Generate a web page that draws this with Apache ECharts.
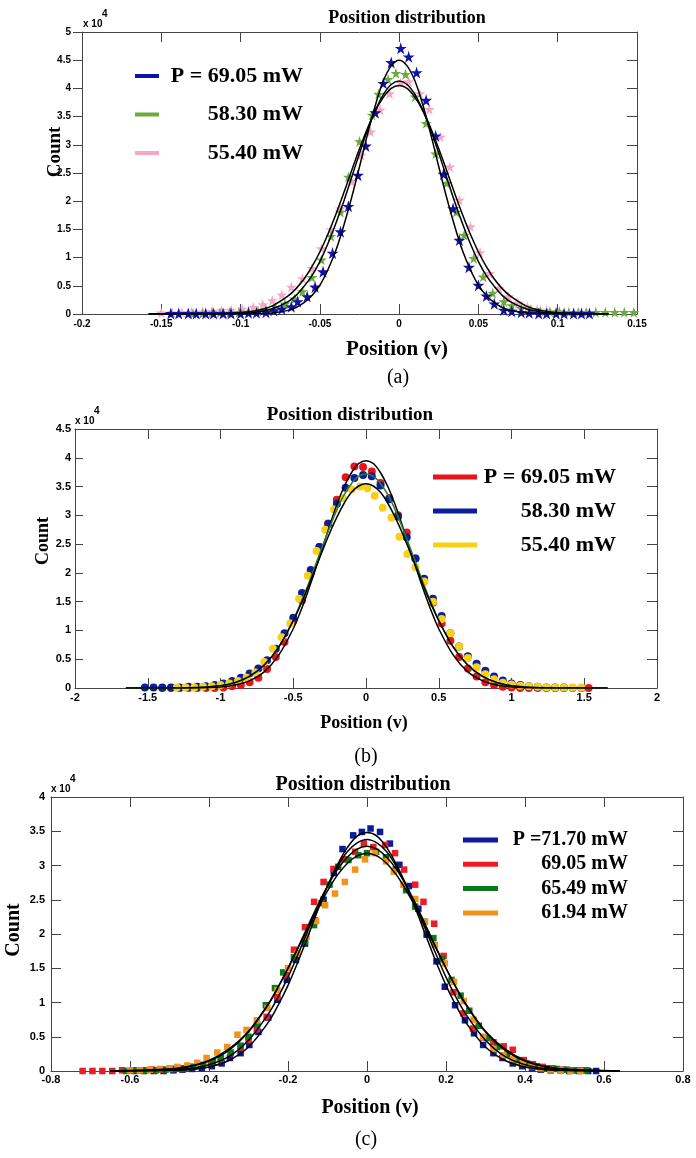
<!DOCTYPE html>
<html><head><meta charset="utf-8">
<script src="https://cdn.jsdelivr.net/npm/echarts@6/dist/echarts.min.js"></script>
<style>html,body{margin:0;padding:0;background:#fff}#c{width:696px;height:1158px}</style>
</head><body><div id="c"></div>
<script>
// ---------------- DATA ----------------
// Panel (a): scatter data [position, count/1e4]
const aBlue = [[-0.144,0.01],[-0.139,0.01],[-0.133,0.01],[-0.128,0.01],[-0.122,0.01],[-0.117,0.01],[-0.111,0.01],[-0.106,0.01],[-0.100,0.01],[-0.095,0.02],[-0.090,0.02],[-0.084,0.03],[-0.079,0.06],[-0.074,0.09],[-0.068,0.13],[-0.064,0.22],[-0.058,0.31],[-0.053,0.48],[-0.048,0.75],[-0.042,1.08],[-0.037,1.46],[-0.032,1.91],[-0.026,2.46],[-0.021,2.98],[-0.015,3.57],[-0.010,4.09],[-0.005,4.46],[0.001,4.71],[0.006,4.56],[0.011,4.28],[0.017,3.79],[0.023,3.16],[0.028,2.48],[0.034,1.87],[0.038,1.31],[0.044,0.83],[0.050,0.51],[0.055,0.32],[0.060,0.18],[0.066,0.07],[0.071,0.05],[0.077,0.03],[0.082,0.02],[0.088,0.01],[0.093,0.01],[0.099,0.01],[0.104,0.01],[0.110,0.01],[0.115,0.01],[0.120,0.01]];
const aGreen = [[-0.130,0.01],[-0.124,0.01],[-0.118,0.02],[-0.113,0.02],[-0.107,0.02],[-0.101,0.03],[-0.095,0.04],[-0.089,0.05],[-0.084,0.08],[-0.078,0.12],[-0.072,0.18],[-0.066,0.27],[-0.061,0.40],[-0.055,0.65],[-0.049,0.96],[-0.043,1.38],[-0.037,1.81],[-0.032,2.43],[-0.025,3.06],[-0.017,3.53],[-0.013,3.90],[-0.007,4.16],[-0.002,4.27],[0.004,4.25],[0.010,3.85],[0.017,3.38],[0.023,2.84],[0.030,2.32],[0.036,1.81],[0.041,1.40],[0.047,0.99],[0.053,0.66],[0.059,0.37],[0.066,0.22],[0.071,0.15],[0.077,0.10],[0.083,0.07],[0.089,0.05],[0.095,0.04],[0.101,0.04],[0.107,0.03],[0.113,0.03],[0.118,0.03],[0.124,0.03],[0.130,0.03],[0.136,0.03],[0.142,0.03],[0.148,0.03]];
const aPink = [[-0.150,0.02],[-0.143,0.02],[-0.137,0.03],[-0.131,0.03],[-0.124,0.04],[-0.118,0.05],[-0.112,0.06],[-0.106,0.07],[-0.099,0.09],[-0.092,0.12],[-0.086,0.17],[-0.080,0.24],[-0.074,0.34],[-0.068,0.48],[-0.061,0.63],[-0.055,0.81],[-0.049,1.16],[-0.043,1.50],[-0.037,1.87],[-0.030,2.35],[-0.024,2.82],[-0.018,3.23],[-0.012,3.62],[-0.006,3.91],[0.001,4.10],[0.006,4.12],[0.013,3.91],[0.019,3.63],[0.026,3.14],[0.032,2.61],[0.038,2.02],[0.045,1.55],[0.051,1.09],[0.057,0.72],[0.063,0.46],[0.069,0.31],[0.075,0.20],[0.081,0.13],[0.087,0.08],[0.093,0.06],[0.099,0.04]];
// Panel (a): fit curves
const aFitX     = [-0.158,-0.12,-0.10,-0.09,-0.08,-0.07,-0.065,-0.06,-0.055,-0.05,-0.045,-0.04,-0.035,-0.03,-0.025,-0.02,-0.015,-0.01,-0.005,0,0.005,0.01,0.015,0.02,0.025,0.03,0.035,0.04,0.045,0.05,0.055,0.06,0.065,0.07,0.08,0.09,0.10,0.11,0.132];
const aFitBlue  = [0,0,0.001,0.004,0.017,0.064,0.115,0.20,0.33,0.51,0.78,1.12,1.56,2.06,2.61,3.18,3.70,4.13,4.40,4.50,4.40,4.13,3.70,3.18,2.61,2.06,1.56,1.12,0.78,0.51,0.33,0.20,0.115,0.064,0.017,0.004,0.001,0,0];
const aFitGreen = [0,0.001,0.011,0.033,0.092,0.22,0.33,0.49,0.68,0.93,1.24,1.60,1.99,2.42,2.85,3.26,3.61,3.89,4.07,4.13,4.07,3.89,3.61,3.26,2.85,2.42,1.99,1.60,1.24,0.93,0.68,0.49,0.33,0.22,0.092,0.033,0.011,0.003,0];
const aFitPink  = [0,0.002,0.022,0.060,0.145,0.32,0.45,0.62,0.84,1.10,1.41,1.76,2.14,2.54,2.93,3.29,3.60,3.84,4.00,4.05,4.00,3.84,3.60,3.29,2.93,2.54,2.14,1.76,1.41,1.10,0.84,0.62,0.45,0.32,0.145,0.060,0.022,0.007,0];

// Panel (b)
const bRed = [[-1.40,0],[-1.34,0],[-1.28,0],[-1.22,0],[-1.16,0],[-1.10,0],[-1.04,0],[-0.98,0.01],[-0.92,0.03],[-0.86,0.05],[-0.80,0.10],[-0.74,0.18],[-0.68,0.33],[-0.62,0.54],[-0.56,0.80],[-0.50,1.17],[-0.44,1.52],[-0.38,2.00],[-0.32,2.45],[-0.26,2.86],[-0.20,3.27],[-0.14,3.66],[-0.08,3.85],[-0.02,3.84],[0.04,3.76],[0.10,3.56],[0.16,3.30],[0.22,3.00],[0.28,2.70],[0.34,2.25],[0.40,1.85],[0.46,1.48],[0.52,1.12],[0.58,0.82],[0.64,0.54],[0.70,0.34],[0.76,0.20],[0.82,0.10],[0.88,0.05],[0.94,0.02],[1.00,0.01],[1.06,0],[1.12,0],[1.18,0],[1.24,0],[1.30,0],[1.36,0],[1.42,0],[1.48,0],[1.53,0]];
const bBlue = [[-1.52,0.01],[-1.46,0.01],[-1.40,0.01],[-1.34,0.01],[-1.28,0.01],[-1.22,0.02],[-1.16,0.02],[-1.10,0.03],[-1.04,0.05],[-0.98,0.08],[-0.92,0.12],[-0.86,0.18],[-0.80,0.25],[-0.74,0.34],[-0.68,0.48],[-0.62,0.68],[-0.56,0.95],[-0.50,1.22],[-0.44,1.65],[-0.38,2.05],[-0.32,2.45],[-0.26,2.85],[-0.20,3.20],[-0.14,3.48],[-0.08,3.65],[-0.02,3.70],[0.04,3.68],[0.10,3.52],[0.16,3.28],[0.22,2.98],[0.28,2.62],[0.34,2.25],[0.40,1.90],[0.46,1.55],[0.52,1.25],[0.58,0.95],[0.64,0.72],[0.70,0.55],[0.76,0.42],[0.82,0.30],[0.88,0.20],[0.94,0.13],[1.00,0.08],[1.06,0.05],[1.12,0.03],[1.18,0.02],[1.24,0.01],[1.30,0.01],[1.36,0.01]];
const bYellow = [[-1.30,0.01],[-1.24,0.01],[-1.18,0.01],[-1.12,0.02],[-1.06,0.03],[-1.00,0.05],[-0.94,0.08],[-0.88,0.12],[-0.82,0.18],[-0.76,0.27],[-0.70,0.45],[-0.64,0.68],[-0.58,0.88],[-0.52,1.12],[-0.46,1.55],[-0.40,1.95],[-0.34,2.38],[-0.28,2.75],[-0.22,3.10],[-0.16,3.30],[-0.10,3.45],[-0.04,3.50],[0.01,3.47],[0.06,3.34],[0.115,3.13],[0.175,2.96],[0.23,2.63],[0.285,2.33],[0.34,2.10],[0.40,1.85],[0.46,1.50],[0.52,1.20],[0.58,0.95],[0.64,0.72],[0.70,0.52],[0.76,0.36],[0.82,0.24],[0.88,0.15],[0.94,0.09],[1.00,0.06],[1.06,0.04],[1.12,0.03],[1.18,0.02],[1.24,0.01],[1.30,0.01],[1.36,0.01],[1.42,0.01],[1.48,0.01]];
const bFitX = [-1.65,-1.2,-1.0,-0.9,-0.8,-0.7,-0.6,-0.5,-0.45,-0.4,-0.35,-0.3,-0.25,-0.2,-0.15,-0.1,-0.05,0,0.05,0.1,0.15,0.2,0.25,0.3,0.35,0.4,0.45,0.5,0.6,0.7,0.8,0.9,1.0,1.2,1.66];
const bFit1 = [0,0.002,0.018,0.051,0.127,0.28,0.57,1.03,1.33,1.67,2.04,2.43,2.82,3.19,3.50,3.74,3.90,3.95,3.90,3.74,3.50,3.19,2.82,2.43,2.04,1.67,1.33,1.03,0.57,0.28,0.127,0.051,0.018,0.002,0];
const bFit2 = [0,0.005,0.038,0.090,0.197,0.39,0.71,1.18,1.47,1.78,2.12,2.46,2.79,3.10,3.36,3.55,3.68,3.72,3.68,3.55,3.36,3.10,2.79,2.46,2.12,1.78,1.47,1.18,0.71,0.39,0.197,0.090,0.038,0.005,0];
const bFit3 = [0,0.006,0.041,0.096,0.205,0.40,0.71,1.17,1.44,1.74,2.06,2.38,2.69,2.97,3.21,3.40,3.51,3.55,3.51,3.40,3.21,2.97,2.69,2.38,2.06,1.74,1.44,1.17,0.71,0.40,0.205,0.096,0.041,0.006,0];

// Panel (c)
const cBlue = [[-0.59,0],[-0.565,0],[-0.54,0],[-0.515,0],[-0.49,0.01],[-0.467,0.02],[-0.443,0.03],[-0.418,0.04],[-0.393,0.07],[-0.368,0.11],[-0.347,0.19],[-0.32,0.26],[-0.298,0.38],[-0.275,0.57],[-0.25,0.78],[-0.227,1.04],[-0.203,1.33],[-0.18,1.62],[-0.157,1.86],[-0.133,2.20],[-0.11,2.50],[-0.084,2.89],[-0.062,3.24],[-0.035,3.44],[-0.013,3.49],[0.009,3.54],[0.033,3.49],[0.058,3.32],[0.082,3.01],[0.106,2.70],[0.13,2.37],[0.151,1.99],[0.176,1.60],[0.197,1.23],[0.223,0.96],[0.248,0.74],[0.271,0.55],[0.294,0.38],[0.32,0.26],[0.343,0.19],[0.369,0.11],[0.393,0.07],[0.418,0.04],[0.44,0.02],[0.465,0.01],[0.49,0.01],[0.512,0],[0.536,0],[0.56,0],[0.58,0]];
const cRed = [[-0.72,0],[-0.695,0],[-0.67,0],[-0.645,0],[-0.62,0.01],[-0.595,0.01],[-0.57,0.01],[-0.545,0.02],[-0.52,0.02],[-0.495,0.03],[-0.47,0.04],[-0.445,0.06],[-0.42,0.08],[-0.395,0.11],[-0.37,0.17],[-0.345,0.26],[-0.32,0.34],[-0.30,0.45],[-0.279,0.61],[-0.254,0.79],[-0.227,1.08],[-0.205,1.40],[-0.185,1.77],[-0.157,2.10],[-0.134,2.47],[-0.11,2.76],[-0.085,2.95],[-0.058,3.09],[-0.03,3.20],[-0.008,3.32],[0.016,3.27],[0.046,3.30],[0.071,3.18],[0.094,2.94],[0.122,2.72],[0.143,2.47],[0.17,2.15],[0.194,1.68],[0.219,1.15],[0.244,0.84],[0.268,0.62],[0.294,0.49],[0.32,0.42],[0.346,0.36],[0.369,0.31],[0.397,0.16],[0.42,0.10],[0.445,0.06],[0.47,0.04],[0.495,0.02],[0.52,0.01],[0.545,0.01]];
const cGreen = [[-0.61,0],[-0.585,0.01],[-0.56,0.01],[-0.535,0.01],[-0.51,0.02],[-0.487,0.03],[-0.463,0.04],[-0.44,0.06],[-0.415,0.09],[-0.39,0.13],[-0.37,0.19],[-0.345,0.27],[-0.32,0.37],[-0.30,0.50],[-0.278,0.68],[-0.256,0.96],[-0.233,1.21],[-0.212,1.44],[-0.185,1.66],[-0.157,1.89],[-0.134,2.13],[-0.115,2.45],[-0.095,2.72],[-0.073,2.98],[-0.047,3.08],[-0.022,3.15],[0.0,3.18],[0.023,3.20],[0.048,3.12],[0.073,2.95],[0.099,2.64],[0.122,2.40],[0.145,2.18],[0.168,1.94],[0.19,1.63],[0.214,1.33],[0.237,1.10],[0.259,0.88],[0.283,0.66],[0.305,0.48],[0.33,0.35],[0.355,0.24],[0.38,0.16],[0.405,0.11],[0.43,0.07],[0.455,0.04],[0.48,0.03],[0.505,0.02],[0.53,0.01],[0.555,0.01]];
const cOrange = [[-0.60,0.01],[-0.575,0.01],[-0.55,0.02],[-0.525,0.03],[-0.50,0.04],[-0.48,0.06],[-0.455,0.08],[-0.43,0.12],[-0.406,0.19],[-0.379,0.27],[-0.354,0.35],[-0.328,0.53],[-0.305,0.60],[-0.279,0.74],[-0.252,0.92],[-0.227,1.18],[-0.20,1.50],[-0.176,1.72],[-0.153,1.96],[-0.129,2.19],[-0.106,2.42],[-0.081,2.59],[-0.056,2.76],[-0.03,2.94],[-0.005,3.09],[0.02,3.18],[0.048,3.06],[0.068,2.91],[0.092,2.72],[0.122,2.51],[0.147,2.18],[0.172,1.84],[0.197,1.57],[0.22,1.30],[0.245,1.02],[0.27,0.75],[0.294,0.50],[0.32,0.32],[0.345,0.23],[0.37,0.17],[0.395,0.11],[0.417,0.07],[0.44,0.04],[0.465,0.02],[0.49,0.01],[0.515,0],[0.54,0]];
const cFitX = [-0.65,-0.5,-0.45,-0.4,-0.35,-0.3,-0.25,-0.225,-0.2,-0.175,-0.15,-0.125,-0.1,-0.075,-0.05,-0.025,0,0.025,0.05,0.075,0.1,0.125,0.15,0.175,0.2,0.225,0.25,0.3,0.35,0.4,0.45,0.5,0.64];
const cFitBlue   = [0,0.006,0.020,0.059,0.153,0.35,0.71,0.96,1.25,1.59,1.96,2.34,2.70,3.01,3.26,3.43,3.48,3.43,3.26,3.01,2.70,2.34,1.96,1.59,1.25,0.96,0.71,0.35,0.153,0.059,0.020,0.006,0];
const cFitRed    = [0,0.012,0.035,0.092,0.21,0.45,0.83,1.08,1.37,1.70,2.04,2.38,2.70,2.98,3.20,3.33,3.38,3.33,3.20,2.98,2.70,2.38,2.04,1.70,1.37,1.08,0.83,0.45,0.21,0.092,0.035,0.012,0];
const cFitGreen  = [0,0.025,0.063,0.144,0.30,0.57,0.97,1.22,1.50,1.80,2.11,2.42,2.70,2.94,3.12,3.24,3.28,3.24,3.12,2.94,2.70,2.42,2.11,1.80,1.50,1.22,0.97,0.57,0.30,0.144,0.063,0.025,0];
const cFitOrange = [0,0.029,0.070,0.156,0.32,0.58,0.98,1.23,1.50,1.79,2.08,2.37,2.63,2.86,3.03,3.14,3.18,3.14,3.03,2.86,2.63,2.37,2.08,1.79,1.50,1.23,0.98,0.58,0.32,0.156,0.070,0.029,0];

// Legend labels
const LABELS = {a1:'P = 69.05 mW', a2:'58.30 mW', a3:'55.40 mW',
                b1:'P = 69.05 mW', b2:'58.30 mW', b3:'55.40 mW',
                c1:'P =71.70 mW', c2:'69.05 mW', c3:'65.49 mW', c4:'61.94 mW'};
const TITLE = 'Position distribution';
const XNAME = 'Position (v)';
const YNAME = 'Count';

// ---------------- CHART ----------------
const SERIF = '"Liberation Serif","Times New Roman",serif';
const NARROW = '"Liberation Sans Narrow","Arial Narrow","Liberation Sans",sans-serif';
const SANS = '"Liberation Sans",Arial,sans-serif';
const AX = '#444';
const STAR = 'path://M50,0 L61,35 L98,35 L68,57 L79,91 L50,70 L21,91 L32,57 L2,35 L39,35 Z';

const panels = [
  {grid:{left:82, top:32, width:555, height:282}, x:[-0.2,0.15,0.05], y:[0,5,0.5], font:NARROW, size:10, yIn:false, yLen:9, yMargin:11, xMargin:5},
  {grid:{left:75, top:429, width:582, height:259}, x:[-2,2,0.5], y:[0,4.5,0.5], font:SANS, size:11, yIn:true, yLen:8, yMargin:4, xMargin:4},
  {grid:{left:51, top:797, width:632, height:274}, x:[-0.8,0.8,0.2], y:[0,4,0.5], font:SANS, size:11, yIn:true, yLen:10, yMargin:6, xMargin:3}
];

const grids = [], xAxes = [], yAxes = [];
panels.forEach((p, i) => {
  grids.push(Object.assign({containLabel:false}, p.grid));
  const lab = (show, margin) => ({show, fontFamily:p.font, fontSize:p.size, fontWeight:'bold', color:'#000', margin, showMinLabel:true, showMaxLabel:true});
  const line = {show:true, onZero:false, lineStyle:{color:AX, width:1}};
  xAxes.push({type:'value', gridIndex:i, position:'bottom', min:p.x[0], max:p.x[1], interval:p.x[2],
    axisLine:line, axisTick:{inside:true, length:10, lineStyle:{color:AX}}, axisLabel:lab(true, p.xMargin), splitLine:{show:false}});
  xAxes.push({type:'value', gridIndex:i, position:'top', min:p.x[0], max:p.x[1], interval:p.x[2],
    axisLine:line, axisTick:{inside:true, length:10, lineStyle:{color:AX}}, axisLabel:{show:false}, splitLine:{show:false}});
  yAxes.push({type:'value', gridIndex:i, position:'left', min:p.y[0], max:p.y[1], interval:p.y[2],
    axisLine:line, axisTick:{inside:p.yIn, length:p.yLen, lineStyle:{color:AX}}, axisLabel:lab(true, p.yMargin), splitLine:{show:false}});
  yAxes.push({type:'value', gridIndex:i, position:'right', min:p.y[0], max:p.y[1], interval:p.y[2],
    axisLine:line, axisTick:{inside:true, length:10, lineStyle:{color:AX}}, axisLabel:{show:false}, splitLine:{show:false}});
});

const zip = (xs, ys) => xs.map((x, k) => [x, ys[k]]);
function scatter(name, panel, data, color, symbol, size) {
  return {type:'scatter', name, xAxisIndex:panel*2, yAxisIndex:panel*2, data, symbol, symbolSize:size,
    itemStyle:{color, opacity:1}, z:2, silent:true};
}
function fit(name, panel, xs, ys, color) {
  return {type:'line', name, xAxisIndex:panel*2, yAxisIndex:panel*2, data:zip(xs, ys), showSymbol:false, symbol:'none',
    smooth:0.35, lineStyle:{color: color || '#000', width:1.5}, z:4, silent:true};
}

const series = [
  scatter('a3', 0, aPink, '#f7a6c6', STAR, 11),
  scatter('a2', 0, aGreen, '#6bab3d', STAR, 11),
  scatter('a1', 0, aBlue, '#1010aa', STAR, 12),
  fit('fa1', 0, aFitX, aFitBlue), fit('fa2', 0, aFitX, aFitGreen), fit('fa3', 0, aFitX, aFitPink),

  scatter('b1', 1, bRed, '#e8131b', 'circle', 8),
  scatter('b2', 1, bBlue, '#0b1f9e', 'circle', 8),
  scatter('b3', 1, bYellow, '#f7d117', 'circle', 8),
  fit('fb1', 1, bFitX, bFit1), fit('fb2', 1, bFitX, bFit2, '#2e7d32'), fit('fb3', 1, bFitX, bFit3),

  scatter('c1', 2, cBlue, '#0a1a9a', 'rect', 6.5),
  scatter('c2', 2, cRed, '#ee1c25', 'rect', 6.5),
  scatter('c3', 2, cGreen, '#0a7a1c', 'rect', 6.5),
  scatter('c4', 2, cOrange, '#f0921c', 'rect', 6.5),
  fit('fc1', 2, cFitX, cFitBlue), fit('fc2', 2, cFitX, cFitRed), fit('fc3', 2, cFitX, cFitGreen), fit('fc4', 2, cFitX, cFitOrange)
];

function legend(names, left, top, iw, ih, gap, fs, tw) {
  return {show:true, orient:'vertical', left, top, padding:0, icon:'rect', itemWidth:iw, itemHeight:ih, itemGap:gap,
    selectedMode:false, data:names,
    formatter: n => '{t|' + LABELS[n] + '}',
    textStyle:{rich:{t:{fontFamily:SERIF, fontWeight:'bold', fontSize:fs, lineHeight:fs, width:tw, align:'right', color:'#000'}}}};
}

function txt(text, x, y, font, opts) {
  return Object.assign({type:'text', x, y, silent:true,
    style:{text, font, fill:'#000', align:'center', verticalAlign:'middle', textAlign:'center', textVerticalAlign:'middle'}}, opts || {});
}
function sci(x, y) {
  return [
    {type:'text', x, y, silent:true, style:{text:'x 10', font:'bold 10px ' + SANS, fill:'#000', align:'left', verticalAlign:'middle', textAlign:'left', textVerticalAlign:'middle'}},
    {type:'text', x:x + 19, y:y - 10, silent:true, style:{text:'4', font:'bold 10px ' + SANS, fill:'#000', align:'left', verticalAlign:'middle', textAlign:'left', textVerticalAlign:'middle'}}
  ];
}

const graphic = [
  txt(TITLE, 407, 18, 'bold 18px ' + SERIF),
  txt(YNAME, 55, 152, 'bold 19px ' + SERIF, {rotation: Math.PI/2}),
  txt(XNAME, 397, 350, 'bold 21px ' + SERIF),
  txt('(a)', 398, 378, '20px ' + SERIF),
  ...sci(83, 24),

  txt(TITLE, 350, 415, 'bold 19px ' + SERIF),
  txt(YNAME, 43, 541, 'bold 18px ' + SERIF, {rotation: Math.PI/2}),
  txt(XNAME, 364, 723, 'bold 18px ' + SERIF),
  txt('(b)', 366, 757, '20px ' + SERIF),
  ...sci(75, 421),

  txt(TITLE, 363, 785, 'bold 20px ' + SERIF),
  txt(YNAME, 14, 930, 'bold 20px ' + SERIF, {rotation: Math.PI/2}),
  txt(XNAME, 370, 1108, 'bold 20px ' + SERIF),
  txt('(c)', 366, 1140, '20px ' + SERIF),
  ...sci(51, 789)
];

const chart = echarts.init(document.getElementById('c'), null, {renderer:'canvas'});
chart.setOption({
  animation:false,
  backgroundColor:'#fff',
  grid:grids, xAxis:xAxes, yAxis:yAxes,
  legend:[
    legend(['a1','a2','a3'], 135, 65, 24, 4, 16.5, 22, 139),
    legend(['b1','b2','b3'], 433, 466, 44, 5, 12, 22, 134),
    legend(['c1','c2','c3','c4'], 463, 830, 35, 5, 4.3, 20, 125)
  ],
  series, graphic
});
</script></body></html>
